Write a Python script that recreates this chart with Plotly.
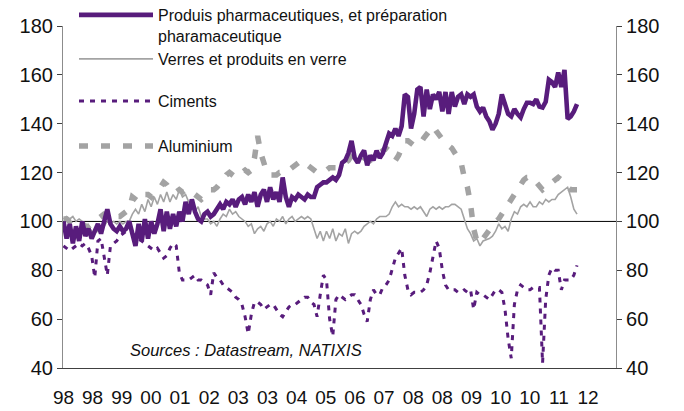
import numpy as np
import plotly.graph_objects as go

# ---- data (monthly index, Jan 1998 = 0) ----
pharma = [100, 93, 99, 91, 98, 92, 100, 94, 97, 93,
          96, 99, 95, 100, 105, 99, 97, 96, 98, 96,
          97, 100, 94, 90, 99, 92, 101, 93, 100, 95,
          99, 105, 96, 104, 97, 103, 98, 104, 100, 108,
          103, 109, 104, 101, 100, 103, 104, 102, 103, 105,
          107, 105, 108, 107, 109, 106, 109, 110, 107, 111,
          108, 112, 106, 111, 113, 108, 114, 109, 112, 108,
          118, 110, 106, 110, 109, 111, 110, 109, 111, 110,
          110, 114, 115, 116, 116, 117, 118, 117, 119, 124,
          125, 128, 133, 126, 124, 127, 129, 123, 127, 125,
          129, 126, 128, 132, 136, 135, 138, 135, 139, 152,
          151, 138, 144, 154, 155, 143, 154, 146, 152, 150,
          153, 145, 153, 144, 153, 147, 151, 152, 148, 152,
          151, 152, 147, 145, 146.6, 143, 141, 137.6, 140, 144,
          152, 148, 144, 143, 146, 144, 142.6, 146, 148.6, 148.6,
          148, 150, 147, 146.6, 149, 158, 157, 155, 161, 155,
          162, 142, 143, 145, 148]

verres = [101, 102, 101, 102, 100, 101, 100, 99, 98, 96,
          95.5, 96, 97, 98, 100, 99, 100, 99, 100, 99,
          100, 100, 103, 105, 103, 107, 104, 109, 106, 110,
          107, 111, 108, 112, 108, 111, 109, 113, 110, 111,
          108, 107, 104, 106, 102, 101, 101, 99, 100, 98,
          101, 103, 102, 105, 103, 104, 102, 101, 100, 98,
          99, 95, 97, 98, 96, 99, 100, 98, 101, 100,
          102, 99, 101, 102, 100, 101, 102, 101, 102, 101,
          97, 93, 96, 92, 96, 93, 97, 92, 95, 94,
          97, 91, 95, 96, 95, 96, 98, 99, 100, 99,
          101, 102, 102, 102, 103, 106, 108, 106, 107, 106,
          106, 105, 106, 105, 106, 104, 102, 105, 106, 105,
          106, 105, 106, 106, 107, 107, 106, 105, 101, 97,
          95, 92, 93, 90, 92, 92.6, 93, 94, 96, 99,
          97, 98, 96, 101, 104, 103, 106, 107, 106, 108,
          106, 106, 108, 107, 109, 108, 109, 109, 111, 112,
          113, 114, 110, 105, 103]

ciments = [90, 89, 88, 89, 90, 91, 90, 91, 89, 86,
           77, 92, 93, 85, 78, 90, 91, 92, 94, 95,
           96, 96, 95, 94, 93, 92, 91, 90, 89, 88,
           89, 87, 85, 86, 89, 91, 90, 79, 76, 76,
           76, 77, 78, 76, 76, 75, 74, 70, 79, 77,
           76, 74, 73, 72, 71, 69, 68, 66, 61, 54,
           62, 67, 67, 66, 64, 65, 66, 66, 64, 62,
           61, 63, 65, 66, 66, 67, 68, 69, 69, 67,
           66, 61, 70, 78, 76, 60, 53, 68, 70, 69,
           68, 69, 70, 70, 68, 66, 62, 59, 68, 72,
           70, 70, 73, 74, 76, 80, 85, 87, 89, 78,
           72, 70, 71, 71, 71, 72, 74, 79, 86, 92,
           89, 80, 74, 72, 72, 72, 71, 71, 72, 71,
           72, 64, 71, 70, 70, 69, 68, 70, 72, 72,
           71, 64, 52, 44, 66, 72, 74, 73, 72, 72,
           73, 73, 73, 42, 68, 78, 81, 80, 80, 72,
           76, 76, 76, 78, 82]

aluminium = [101, 101, 100, 101, 100, 99, 99, 98, 98, 99,
             100, 101, 102, 103, 103, 104, 103, 102, 102, 103,
             104, 105, 110, 109, 108, 109, 111, 111, 110, 112,
             113, 114, 116, 115, 113, 112, 112, 113, 112, 113,
             113, 112, 111, 110, 109, 110, 111, 113, 113, 114,
             116, 118, 119, 120, 119, 118, 119, 120, 121, 120,
             121, 126, 135, 128, 124, 120, 119, 119, 119, 120,
             120, 121, 121, 122, 123, 124, 125, 124, 123, 122,
             121, 120, 120, 121, 121, 122, 122, 122, 123, 123,
             124, 125, 127, 128, 128, 127, 126, 126, 125, 126,
             127, 128, 129, 130, 129, 127, 125, 127, 130, 133,
             133, 132, 131, 131, 132, 134, 136, 138, 139, 137,
             135, 133, 132, 131, 130, 128, 126, 124, 118, 114,
             107, 97, 92, 91, 93, 95, 97, 99, 100, 101,
             103, 105, 107, 110, 111, 113, 115, 117, 118, 118,
             118, 116, 114, 113, 114, 115, 116, 117, 118, 117,
             116, 114, 113, 113, 113]

tick_labels = ["98", "98", "99", "00", "01", "02", "03", "03", "04", "05",
               "06", "07", "08", "08", "09", "10", "10", "11", "12"]

names = ["Produis pharmaceutiques, et préparation<br>pharamaceutique",
         "Verres et produits en verre",
         "Ciments",
         "Aluminium"]

# ---- styling ----
PURPLE = "#581C7C"
GRAY = "#A3A3A3"
FONT = "Liberation Sans, Arial, sans-serif"

# the page body has an 8px default margin, so the figure is drawn from (8, 8)
PAGE_OFF = 8
PLOT_L, PLOT_R, PLOT_T, PLOT_B = 63, 616, 26, 368   # target page pixels
FIG_W, FIG_H = 684 - PAGE_OFF, 411 - PAGE_OFF

months = np.arange(len(pharma))
px_per_month = 3.134           # pixel scale of the original category axis
x_max = (PLOT_R - PLOT_L) / px_per_month
tick_step = 29.17 / px_per_month
tickvals = [k * tick_step for k in range(len(tick_labels))]

fig = go.Figure()

fig.add_trace(go.Scatter(x=months, y=aluminium, name=names[3], mode="lines",
                         line=dict(color=GRAY, width=5.5, dash="9px,13px"),
                         legend="legend4"))
fig.add_trace(go.Scatter(x=months, y=verres, name=names[1], mode="lines",
                         line=dict(color=GRAY, width=1.6),
                         legend="legend2"))
fig.add_trace(go.Scatter(x=months, y=ciments, name=names[2], mode="lines",
                         line=dict(color=PURPLE, width=3, dash="5px,6px"),
                         legend="legend3"))
fig.add_trace(go.Scatter(x=months, y=pharma, name=names[0], mode="lines",
                         line=dict(color=PURPLE, width=4.6),
                         legend="legend"))
# invisible trace to drive the right-hand axis
fig.add_trace(go.Scatter(x=[months[0]], y=[100], yaxis="y2", mode="lines",
                         showlegend=False, hoverinfo="skip",
                         line=dict(color="rgba(0,0,0,0)")))

fig.add_hline(y=100, line=dict(color="black", width=1), layer="below")

plot_h = PLOT_B - PLOT_T
plot_w = PLOT_R - PLOT_L

leg_common = dict(font=dict(family=FONT, size=16, color="#111"),
                  bgcolor="rgba(0,0,0,0)", itemwidth=74, valign="top",
                  xanchor="left", yanchor="top", tracegroupgap=0,
                  x=(74 - PLOT_L) / plot_w, itemclick=False)

def leg(ytop_px):
    d = dict(leg_common)
    d["y"] = 1 + (PLOT_T - ytop_px) / plot_h
    return d

fig.update_layout(
    width=FIG_W, height=FIG_H,
    margin=dict(l=PLOT_L - PAGE_OFF, r=FIG_W - (PLOT_R - PAGE_OFF),
                t=PLOT_T - PAGE_OFF, b=FIG_H - (PLOT_B - PAGE_OFF),
                autoexpand=False),
    paper_bgcolor="white", plot_bgcolor="white",
    font=dict(family=FONT, size=20, color="#111"),
    showlegend=True,
    legend=leg(-2),
    legend2=leg(42),
    legend3=leg(84),
    legend4=leg(129),
    xaxis=dict(range=[-0.15, x_max], tickvals=tickvals, ticktext=tick_labels,
               showgrid=False, zeroline=False, showline=True,
               linecolor="#404040", linewidth=1.2, ticks="",
               tickfont=dict(family=FONT, size=19, color="#111"),
               ticklabelstandoff=12),
    yaxis=dict(range=[40, 180], dtick=20, showgrid=False, zeroline=False,
               showline=True, linecolor="#8C8C8C", linewidth=1.2,
               ticks="outside", ticklen=5, tickcolor="#404040",
               tickfont=dict(family=FONT, size=20, color="#111")),
    yaxis2=dict(range=[40, 180], dtick=20, overlaying="y", side="right",
                showgrid=False, zeroline=False, showline=True,
                linecolor="#8C8C8C", linewidth=1.2,
                ticks="outside", ticklen=5, tickcolor="#404040",
                tickfont=dict(family=FONT, size=20, color="#111")),
    annotations=[dict(text="<i>Sources : Datastream, NATIXIS</i>",
                      xref="paper", yref="paper",
                      x=(246 - PLOT_L) / plot_w, y=(PLOT_B - 350) / plot_h,
                      xanchor="center", yanchor="middle", showarrow=False,
                      font=dict(family=FONT, size=16.5, color="#111"))],
)

fig.write_html("out.html")
